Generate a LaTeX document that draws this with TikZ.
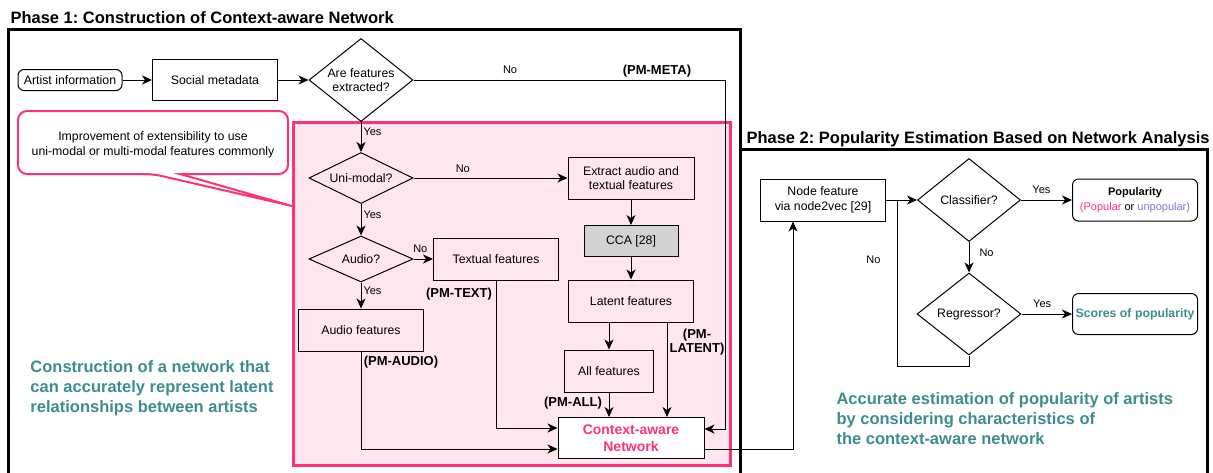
\documentclass[tikz,border=0pt]{standalone}
\usepackage{fontspec}
\setmainfont{Liberation Sans}
\usetikzlibrary{arrows.meta, positioning, shapes.geometric}
\definecolor{pinkline}{HTML}{FF3370}
\definecolor{pinkfill}{HTML}{FFE6EE}
\definecolor{tealnote}{HTML}{3D8C8E}
\definecolor{unpop}{HTML}{7878E6}
\definecolor{ccagray}{HTML}{D2D2D2}
\frenchspacing

\begin{document}
\begin{tikzpicture}[x=1pt, y=-1pt, on grid, line width=1pt,
    >={Stealth[length=10pt, width=9pt, inset=3pt]},
    box/.style={draw, rectangle, inner sep=0pt, minimum width=125pt, minimum height=42pt,
      align=center, font=\fontsize{12.3}{14.7}\selectfont},
    rbox/.style={box, rounded corners=6pt},
    decision/.style={draw, diamond, inner sep=0pt, minimum width=104pt, align=center,
      font=\fontsize{12.3}{14.7}\selectfont},
    lbl/.style={inner sep=0pt, font=\fontsize{11}{13}\selectfont},
    pm/.style={inner sep=0pt, align=center, font=\bfseries\fontsize{13}{14}\selectfont},
    goal/.style={inner sep=0pt, anchor=north west, align=left, text=tealnote,
      font=\bfseries\fontsize{16.5}{20}\selectfont},
    phasetitle/.style={inner sep=0pt, anchor=base west, font=\bfseries\fontsize{16.5}{20}\selectfont},
    phase/.style={line width=3pt}]
  \useasboundingbox (0,0) rectangle (1213,472);

  \draw[phase] (8,490) -- (8,29) -- (740,29) -- (740,490);
  \draw[phase] (740,490) -- (740,149) -- (1207,149) -- (1207,490);
  \node[phasetitle] (title1) at (10,23) {Phase 1: Construction of Context-aware Network};
  \node[phasetitle] (title2) at (746,143) {Phase 2: Popularity Estimation Based on Network Analysis};

  \draw[pinkline, line width=3pt, fill=pinkfill] (293,122) rectangle (730,465);
  \draw[pinkline, line width=2pt, fill=white, rounded corners=9pt]
    (180,174) -- (288,174) -- (288,111) -- (18,111) -- (18,174) -- (153,174)
    [sharp corners] -- (292,206) -- cycle;
  \node[inner sep=0pt, align=center, font=\fontsize{12.3}{14.7}\selectfont] (extnote) at (153,145)
    {Improvement of extensibility to use\\uni-modal or multi-modal features commonly};

  \node[rbox, minimum width=104pt, minimum height=21pt] (art) at (70,80) {Artist information};
  \node[box, minimum height=41pt] (social) [right=145pt of art] {Social metadata};
  \node[decision, minimum height=83pt, aspect=1.3] (extracted) [right=146pt of social] {Are features\\extracted?};
  \node[decision, minimum height=51pt, aspect=2.2] (unimodal) [below=98pt of extracted] {Uni-modal?};
  \node[decision, minimum height=46pt, aspect=2.2] (audioq) [below=81pt of unimodal] {Audio?};
  \node[box] (audiof) [below=71pt of audioq] {Audio features};
  \node[box] (textf) [right=135pt of audioq] {Textual features};
  \node[box, minimum width=126pt] (extract) [right=270pt of unimodal] {Extract audio and\\textual features};
  \node[box, fill=ccagray, minimum width=94pt, minimum height=31pt] (cca) [below=63pt of extract] {CCA [28]};
  \node[box] (latent) [below=60pt of cca] {Latent features};
  \node[box, minimum width=89pt] (allf) [below left=70pt and 22pt of latent] {All features};
  \node[box, fill=white, minimum width=146pt, minimum height=41pt, text=pinkline,
    font=\bfseries\fontsize{14}{16.5}\selectfont] (net) [below=137pt of latent] {Context-aware\\Network};

  \node[box] (nodefeat) at (823,200) {Node feature\\via node2vec [29]};
  \node[decision, minimum width=103pt, minimum height=83pt, aspect=1.25] (classif) [right=146pt of nodefeat] {Classifier?};
  \node[rbox, font=\fontsize{11}{15}\selectfont] (popul) [right=166pt of classif]
    {\textbf{Popularity}\\\textcolor{pinkline}{(Popular} or \textcolor{unpop}{unpopular)}};
  \node[decision, minimum height=82pt, aspect=1.25] (regress) [below=114pt of classif] {Regressor?};
  \node[rbox, minimum height=41pt, text=tealnote, font=\bfseries\fontsize{12.3}{14.7}\selectfont]
    (scores) [right=166pt of regress] {Scores of popularity};

  \node[pm] (pmmeta) at (657,71) {(PM-META)};
  \node[pm] (pmtext) at (459,294) {(PM-TEXT)};
  \node[pm] (pmaudio) at (401,362) {(PM-AUDIO)};
  \node[pm] (pmall) at (573,403) {(PM-ALL)};
  \node[pm] (pmlatent) at (697,342) {(PM-\\LATENT)};

  \node[goal] (goal1) at (30,360) {Construction of a network that\\can accurately represent latent\\relationships between artists};
  \node[goal] (goal2) at (836,392) {Accurate estimation of popularity of artists\\by considering characteristics of\\the context-aware network};

  \path[->]
  (art) edge (social)
  (social) edge (extracted)
  (extracted) edge node[lbl, pos=0.34, right=2pt] (yes1) {Yes} (unimodal)
  (unimodal) edge node[lbl, pos=0.32, above=5pt] (no1) {No} (extract)
  (unimodal) edge node[lbl, pos=0.34, right=2pt] (yes2) {Yes} (audioq)
  (audioq) edge node[lbl, pos=0.35, above=6pt] (no2) {No} (textf)
  (audioq) edge node[lbl, pos=0.33, right=2pt] (yes3) {Yes} (audiof)
  (extract) edge (cca)
  (cca) edge (latent)
  (nodefeat) edge (classif)
  (classif) edge node[lbl, pos=0.4, above=6pt] (yes4) {Yes} (popul)
  (classif) edge node[lbl, pos=0.34, right=10pt] (no4) {No} (regress)
  (regress) edge node[lbl, pos=0.41, above=6pt] (yes5) {Yes} (scores)
  ;

  \draw[->] (extracted.east) -- node[lbl, pos=0.31, above=6pt] (no0) {No} (725,80) |- ([yshift=9pt]net.east);
  \draw[->] (allf.north |- latent.south) -- (allf.north);
  \draw[->] (allf.south) -- (allf.south |- net.north);
  \draw[->] ([xshift=36pt]latent.south) -- ([xshift=36pt]latent.south |- net.north);
  \draw[->] (textf.south) |- ([yshift=10pt]net.west);
  \draw[->] (audiof.south) |- ([yshift=-11pt]net.west);
  \draw[->] ([yshift=-11pt]net.east) -| ([xshift=-30pt]nodefeat.south);
  \coordinate (loopend) at (897,200);
  \draw (regress.south) -- ++(0,11) -| node[lbl, pos=0.82, left=16pt] (no3) {No} (loopend);
\end{tikzpicture}
\end{document}
